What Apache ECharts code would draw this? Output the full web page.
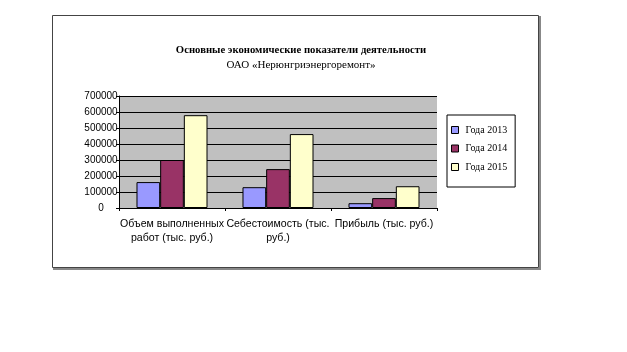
<!DOCTYPE html>
<html>
<head>
<meta charset="utf-8">
<script src="https://cdn.jsdelivr.net/npm/echarts@6/dist/echarts.min.js"></script>
<style>
  html, body { margin: 0; padding: 0; background: #fff; }
  #chart { width: 627px; height: 352px; }
</style>
</head>
<body>
<div id="chart"></div>
<script>
const categories = ['Объем выполненных\nработ (тыс. руб.)', 'Себестоимость (тыс.\nруб.)', 'Прибыль (тыс. руб.)'];
const values2013 = [162000, 130000, 30000];
const values2014 = [300000, 243000, 62000];
const values2015 = [580000, 462000, 136000];
const yTicks = [0, 100000, 200000, 300000, 400000, 500000, 600000, 700000];

const chart = echarts.init(document.getElementById('chart'));

function barSeries(name, data, color) {
  return {
    name: name,
    type: 'bar',
    data: data,
    barGap: 0,
    barCategoryGap: '33%',
    itemStyle: { color: color, borderColor: '#000', borderWidth: 1 }
  };
}

chart.setOption({
  animation: false,
  title: {
    text: 'Основные экономические показатели деятельности',
    subtext: 'ОАО «Нерюнгриэнергоремонт»',
    left: 296,
    textAlign: 'center',
    top: 40,
    itemGap: 4,
    textStyle: { fontFamily: 'Liberation Serif', fontSize: 10.7, fontWeight: 'bold', color: '#000' },
    subtextStyle: { fontFamily: 'Liberation Serif', fontSize: 11, color: '#000' }
  },
  graphic: [
    {
      type: 'rect',
      shape: { x: 54, y: 17, width: 486, height: 252 },
      style: { fill: 'none', stroke: '#888', lineWidth: 2 },
      z: -1
    },
    {
      type: 'rect',
      shape: { x: 52.5, y: 15.5, width: 486, height: 252 },
      style: { fill: '#fff', stroke: '#444', lineWidth: 1 },
      z: -1
    }
  ],
  legend: {
    orient: 'vertical',
    left: 447,
    top: 115,
    padding: [10, 8, 15, 4],
    itemGap: 8.5,
    itemWidth: 7,
    itemHeight: 7,
    borderColor: '#000',
    borderWidth: 1,
    icon: 'rect',
    itemStyle: { borderColor: '#000', borderWidth: 1 },
    textStyle: { fontFamily: 'Liberation Serif', fontSize: 10, color: '#000', padding: [0, 0, 0, 2] }
  },
  grid: { left: 119, top: 96, width: 318, height: 112, containLabel: false },
  xAxis: {
    type: 'category',
    data: categories,
    axisLine: { lineStyle: { color: '#000' } },
    axisTick: { show: true, length: 3, lineStyle: { color: '#000' } },
    axisLabel: {
      interval: 0,
      margin: 9,
      fontFamily: 'Liberation Sans',
      fontSize: 10.6,
      color: '#000',
      lineHeight: 14,
      align: 'center'
    }
  },
  yAxis: {
    type: 'value',
    min: 0,
    max: 700000,
    interval: 100000,
    axisLine: { show: true, lineStyle: { color: '#000' } },
    axisTick: { show: true, length: 3, lineStyle: { color: '#000' } },
    axisLabel: {
      margin: 18,
      align: 'center',
      fontFamily: 'Liberation Sans',
      fontSize: 10,
      color: '#000',
      formatter: function (v) { return yTicks.indexOf(v) >= 0 ? String(v) : ''; }
    },
    splitLine: { lineStyle: { color: '#000', width: 1 } },
    splitArea: { show: true, areaStyle: { color: ['#C0C0C0', '#C0C0C0'] } }
  },
  series: [
    barSeries('Года 2013', values2013, '#9999FF'),
    barSeries('Года 2014', values2014, '#993366'),
    barSeries('Года 2015', values2015, '#FFFFCC')
  ]
});
</script>
</body>
</html>
